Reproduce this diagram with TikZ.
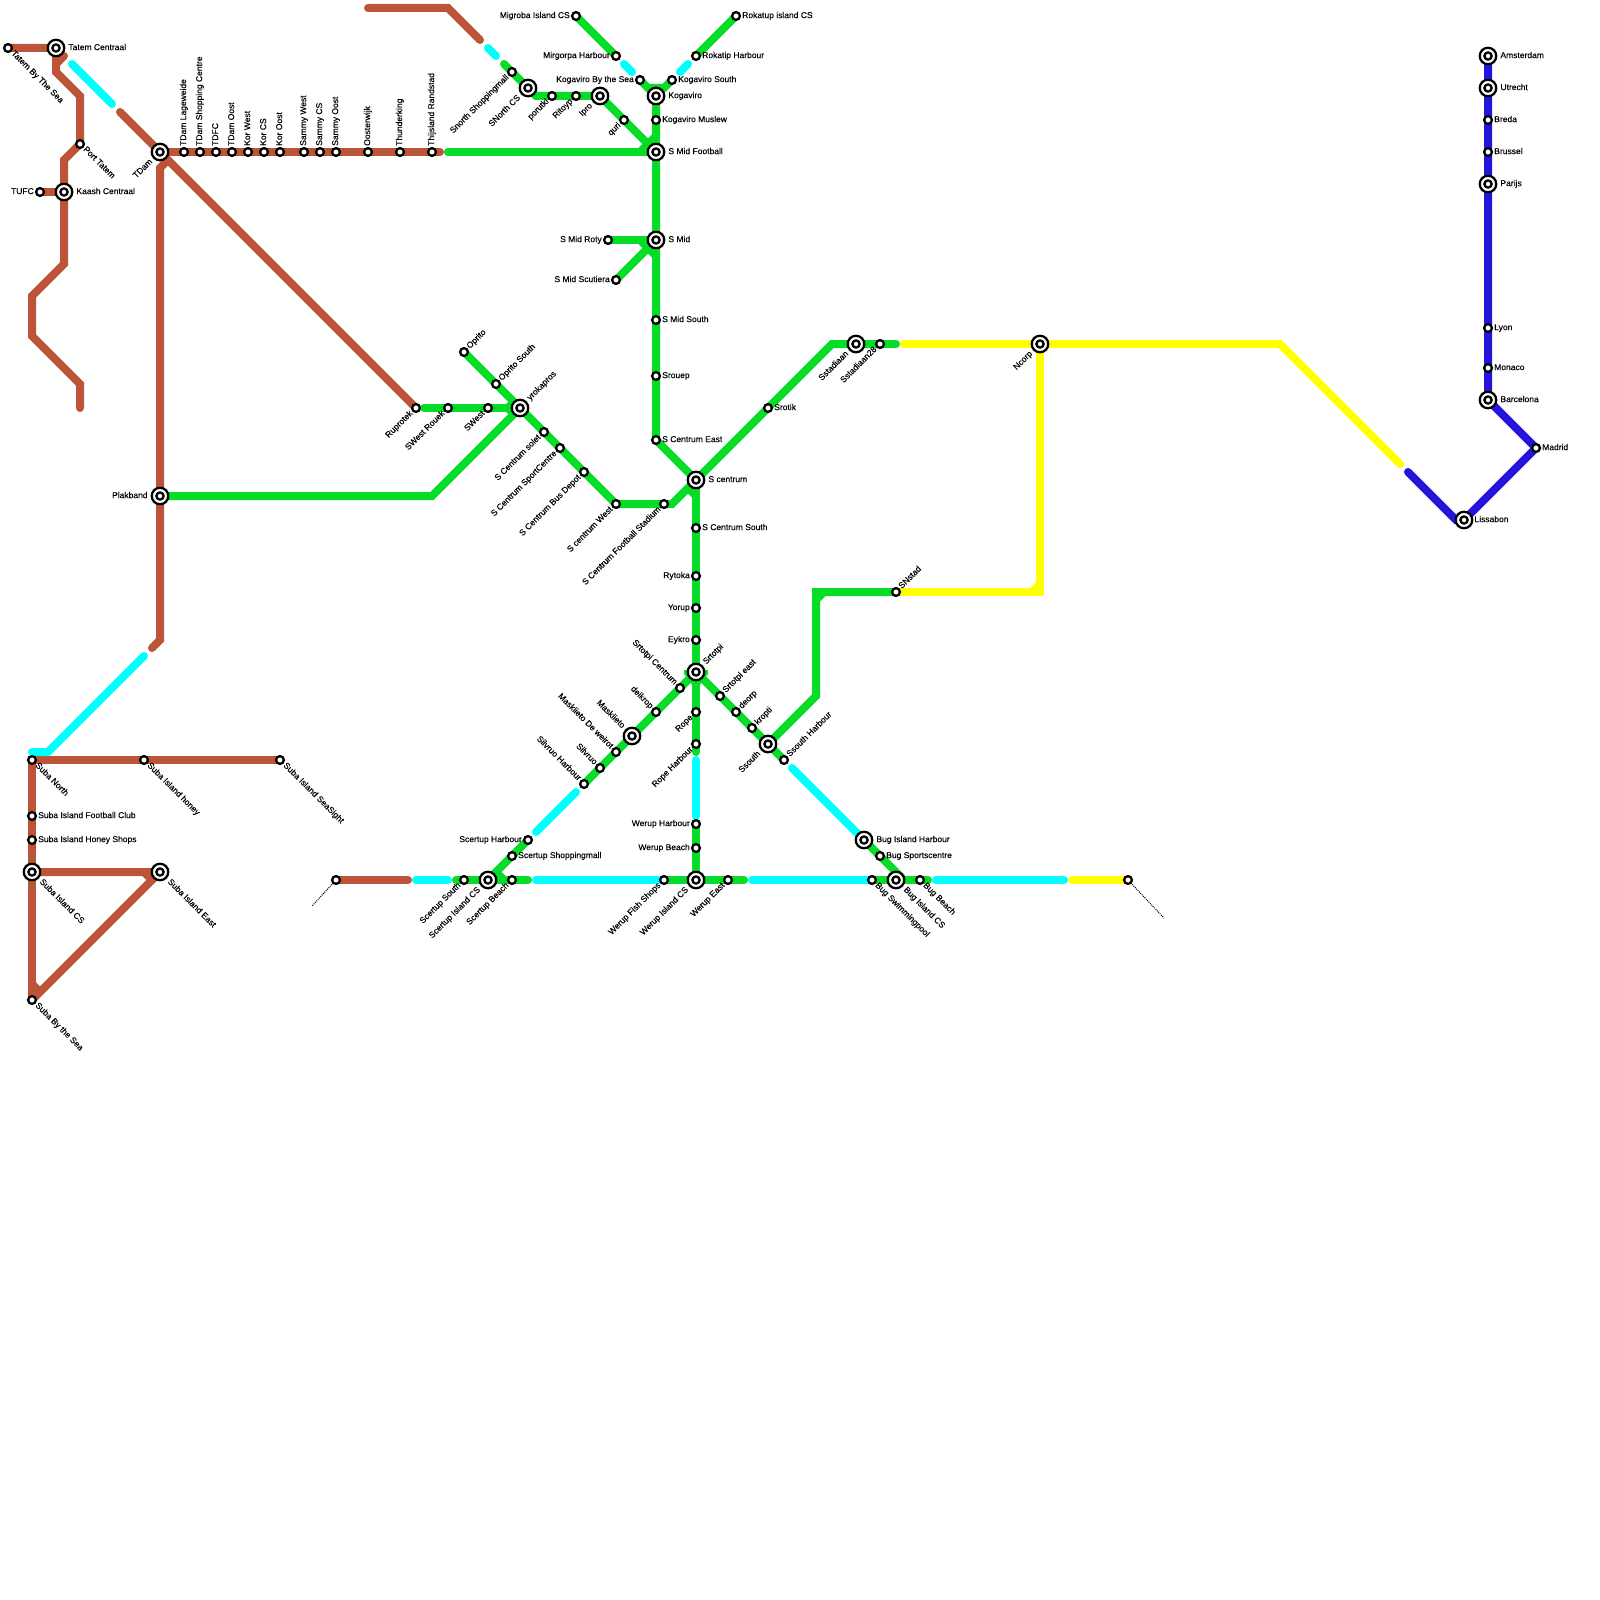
\documentclass[tikz,border=0pt]{standalone}
\usepackage{fontspec}
\setmainfont[FakeBold=0.2]{Liberation Sans}
\usepackage{xcolor}
\usetikzlibrary{backgrounds}
\definecolor{mbrown}{RGB}{188,85,56}
\definecolor{mgreen}{RGB}{7,220,40}
\definecolor{mblue}{RGB}{36,22,216}
\definecolor{mcyan}{RGB}{0,255,255}
\definecolor{myellow}{RGB}{255,255,0}
\tikzset{
  track/.style={line width=8pt,line cap=round,line join=miter},
  brownln/.style={track,draw=mbrown},
  greenln/.style={track,draw=mgreen},
  cyanln/.style={track,draw=mcyan},
  yellowln/.style={track,draw=myellow},
  blueln/.style={track,draw=mblue},
  deadln/.style={draw=black,line width=1pt,dash pattern=on 1pt off 1pt},
  stn/.style={circle,draw=black,fill=white,line width=2.3pt,minimum size=7.8pt,inner sep=0pt},
  hub/.style={stn,minimum size=16.5pt,outer sep=3pt,path picture={\draw[black,line width=2.3pt] (path picture bounding box.center) circle (3.6);}},
  txt/.style={font=\fontsize{8.5}{9}\selectfont,inner sep=1pt,text height=6pt,text depth=1.8pt},
  txtE/.style={txt,anchor=west},
  txtW/.style={txt,anchor=east},
  txtN/.style={txt,anchor=west,rotate=90},
  txtNE/.style={txt,anchor=west,rotate=45},
  txtSW/.style={txt,anchor=east,rotate=45},
  txtSE/.style={txt,anchor=west,rotate=-45},
  txtNW/.style={txt,anchor=east,rotate=-45}
}
\begin{document}
\begin{tikzpicture}[x=1pt,y=-1pt]
  \useasboundingbox (0,0) rectangle (1600,1600);
  % north west
  \node[stn] (tatemsea) at (8,48) {}; \node[txtSE] (tatemseal) at (tatemsea.south east) {Tatem By The Sea};
  \node[hub] (tatemc) at (56,48) {}; \node[txtE] (tatemcl) at (tatemc.east) {Tatem Centraal};
  \node[stn] (porttatem) at (80,144) {}; \node[txtSE] (porttateml) at (porttatem.south east) {Port Tatem};
  \node[stn] (tufc) at (40,192) {}; \node[txtW] (tufcl) at (tufc.west) {TUFC};
  \node[hub] (kaash) at (64,192) {}; \node[txtE] (kaashl) at (kaash.east) {Kaash Centraal};
  \node[hub] (tdam) at (160,152) {}; \node[txtSW] (tdaml) at (tdam.south west) {TDam};
  \node[stn] (lageweide) at (184,152) {}; \node[txtN] (lageweidel) at (lageweide.north) {TDam Lageweide};
  \node[stn] (tdamshop) at (200,152) {}; \node[txtN] (tdamshopl) at (tdamshop.north) {TDam Shopping Centre};
  \node[stn] (tdfc) at (216,152) {}; \node[txtN] (tdfcl) at (tdfc.north) {TDFC};
  \node[stn] (tdamoost) at (232,152) {}; \node[txtN] (tdamoostl) at (tdamoost.north) {TDam Oost};
  \node[stn] (korwest) at (248,152) {}; \node[txtN] (korwestl) at (korwest.north) {Kor West};
  \node[stn] (korcs) at (264,152) {}; \node[txtN] (korcsl) at (korcs.north) {Kor CS};
  \node[stn] (koroost) at (280,152) {}; \node[txtN] (koroostl) at (koroost.north) {Kor Oost};
  \node[stn] (sammywest) at (304,152) {}; \node[txtN] (sammywestl) at (sammywest.north) {Sammy West};
  \node[stn] (sammycs) at (320,152) {}; \node[txtN] (sammycsl) at (sammycs.north) {Sammy CS};
  \node[stn] (sammyoost) at (336,152) {}; \node[txtN] (sammyoostl) at (sammyoost.north) {Sammy Oost};
  \node[stn] (oosterwijk) at (368,152) {}; \node[txtN] (oosterwijkl) at (oosterwijk.north) {Oosterwijk};
  \node[stn] (thunder) at (400,152) {}; \node[txtN] (thunderl) at (thunder.north) {Thunderking};
  \node[stn] (thijsland) at (432,152) {}; \node[txtN] (thijslandl) at (thijsland.north) {Thijsland Randstad};
  \node[hub] (plakband) at (160,496) {}; \node[txtW] (plakbandl) at (plakband.west) {Plakband};
  % suba island
  \node[stn] (subanorth) at (32,760) {}; \node[txtSE] (subanorthl) at (subanorth.south east) {Suba North};
  \node[stn] (subahoney) at (144,760) {}; \node[txtSE] (subahoneyl) at (subahoney.south east) {Suba Island honey};
  \node[stn] (subasight) at (280,760) {}; \node[txtSE] (subasightl) at (subasight.south east) {Suba Island SeaSight};
  \node[stn] (subafc) at (32,816) {}; \node[txtE] (subafcl) at (subafc.east) {Suba Island Football Club};
  \node[stn] (subashops) at (32,840) {}; \node[txtE] (subashopsl) at (subashops.east) {Suba Island Honey Shops};
  \node[hub] (subacs) at (32,872) {}; \node[txtSE] (subacsl) at (subacs.south east) {Suba Island CS};
  \node[hub] (subaeast) at (160,872) {}; \node[txtSE] (subaeastl) at (subaeast.south east) {Suba Island East};
  \node[stn] (subasea) at (32,1000) {}; \node[txtSE] (subasealabel) at (subasea.south east) {Suba By the Sea};
  \node[stn] (endwest) at (336,880) {};
  % scertup and werup
  \node[stn] (scersouth) at (464,880) {}; \node[txtSW] (scersouthl) at (scersouth.south west) {Scertup South};
  \node[hub] (scercs) at (488,880) {}; \node[txtSW] (scercsl) at (scercs.south west) {Scertup Island CS};
  \node[stn] (scerbeach) at (512,880) {}; \node[txtSW] (scerbeachl) at (scerbeach.south west) {Scertup Beach};
  \node[stn] (scershop) at (512,856) {}; \node[txtE] (scershopl) at (scershop.east) {Scertup Shoppingmall};
  \node[stn] (scerharb) at (528,840) {}; \node[txtW] (scerharbl) at (scerharb.west) {Scertup Harbour};
  \node[stn] (werfish) at (664,880) {}; \node[txtSW] (werfishl) at (werfish.south west) {Werup Fish Shops};
  \node[hub] (wercs) at (696,880) {}; \node[txtSW] (wercsl) at (wercs.south west) {Werup Island CS};
  \node[stn] (wereast) at (728,880) {}; \node[txtSW] (wereastl) at (wereast.south west) {Werup East};
  \node[stn] (werharb) at (696,824) {}; \node[txtW] (werharbl) at (werharb.west) {Werup Harbour};
  \node[stn] (werbeach) at (696,848) {}; \node[txtW] (werbeachl) at (werbeach.west) {Werup Beach};
  % bug island
  \node[hub] (bugharb) at (864,840) {}; \node[txtE] (bugharbl) at (bugharb.east) {Bug Island Harbour};
  \node[stn] (bugsport) at (880,856) {}; \node[txtE] (bugsportl) at (bugsport.east) {Bug Sportscentre};
  \node[stn] (bugswim) at (872,880) {}; \node[txtSE] (bugswiml) at (bugswim.south east) {Bug Swimmingpool};
  \node[hub] (bugcs) at (896,880) {}; \node[txtSE] (bugcsl) at (bugcs.south east) {Bug Island CS};
  \node[stn] (bugbeach) at (920,880) {}; \node[txtSE] (bugbeachl) at (bugbeach.south east) {Bug Beach};
  \node[stn] (endeast) at (1128,880) {};
  % north branch
  \node[stn] (snshop) at (512,72) {}; \node[txtSW] (snshopl) at (snshop.south west) {Snorth Shoppingmall};
  \node[hub] (sncs) at (528,88) {}; \node[txtSW] (sncsl) at (sncs.south west) {SNorth CS};
  \node[stn] (porutki) at (552,96) {}; \node[txtSW] (porutkil) at (porutki.south west) {porutki};
  \node[stn] (ritoyp) at (576,96) {}; \node[txtSW] (ritoypl) at (ritoyp.south west) {Ritoyp};
  \node[hub] (ipro) at (600,96) {}; \node[txtSW] (iprol) at (ipro.south west) {Ipro};
  \node[stn] (quri) at (624,120) {}; \node[txtSW] (quril) at (quri.south west) {quri};
  \node[stn] (migroba) at (576,16) {}; \node[txtW] (migrobal) at (migroba.west) {Migroba Island CS};
  \node[stn] (mirgorpa) at (616,56) {}; \node[txtW] (mirgorpal) at (mirgorpa.west) {Mirgorpa Harbour};
  \node[stn] (kogsea) at (640,80) {}; \node[txtW] (kogseal) at (kogsea.west) {Kogaviro By the Sea};
  \node[stn] (kogsouth) at (672,80) {}; \node[txtE] (kogsouthl) at (kogsouth.east) {Kogaviro South};
  \node[stn] (rokhar) at (696,56) {}; \node[txtE] (rokharl) at (rokhar.east) {Rokatip Harbour};
  \node[stn] (rokcs) at (736,16) {}; \node[txtE] (rokcsl) at (rokcs.east) {Rokatup island CS};
  \node[hub] (kogaviro) at (656,96) {}; \node[txtE] (kogavirol) at (kogaviro.east) {Kogaviro};
  \node[stn] (kogmus) at (656,120) {}; \node[txtE] (kogmusl) at (kogmus.east) {Kogaviro Muslew};
  \node[hub] (smidfb) at (656,152) {}; \node[txtE] (smidfbl) at (smidfb.east) {S Mid Football};
  \node[hub] (smid) at (656,240) {}; \node[txtE] (smidl) at (smid.east) {S Mid};
  \node[stn] (smidroty) at (608,240) {}; \node[txtW] (smidrotyl) at (smidroty.west) {S Mid Roty};
  \node[stn] (smidscut) at (616,280) {}; \node[txtW] (smidscutl) at (smidscut.west) {S Mid Scutiera};
  \node[stn] (smidsouth) at (656,320) {}; \node[txtE] (smidsouthl) at (smidsouth.east) {S Mid South};
  \node[stn] (srouep) at (656,376) {}; \node[txtE] (srouepl) at (srouep.east) {Srouep};
  \node[stn] (scentre) at (656,440) {}; \node[txtE] (scentrel) at (scentre.east) {S Centrum East};
  % yrokapros and s centrum
  \node[stn] (ruprotek) at (416,408) {}; \node[txtSW] (ruprotekl) at (ruprotek.south west) {Ruprotek};
  \node[stn] (swrouek) at (448,408) {}; \node[txtSW] (swrouekl) at (swrouek.south west) {SWest Rouek};
  \node[stn] (swest) at (488,408) {}; \node[txtSW] (swestl) at (swest.south west) {SWest};
  \node[stn] (oprito) at (464,352) {}; \node[txtNE] (opritol) at (oprito.north east) {Oprito};
  \node[stn] (opritos) at (496,384) {}; \node[txtNE] (opritosl) at (opritos.north east) {Oprito South};
  \node[hub] (yroka) at (520,408) {}; \node[txtNE] (yrokal) at (yroka.north east) {yrokapros};
  \node[stn] (scsolet) at (544,432) {}; \node[txtSW] (scsoletl) at (scsolet.south west) {S Centrum solet};
  \node[stn] (scsport) at (560,448) {}; \node[txtSW] (scsportl) at (scsport.south west) {S Centrum SportCentre};
  \node[stn] (scbus) at (584,472) {}; \node[txtSW] (scbusl) at (scbus.south west) {S Centrum Bus Depot};
  \node[stn] (scwest) at (616,504) {}; \node[txtSW] (scwestl) at (scwest.south west) {S centrum West};
  \node[stn] (scfoot) at (664,504) {}; \node[txtSW] (scfootl) at (scfoot.south west) {S Centrum Football Stadium};
  \node[hub] (scentrum) at (696,480) {}; \node[txtE] (scentruml) at (scentrum.east) {S centrum};
  \node[stn] (scsouth) at (696,528) {}; \node[txtE] (scsouthl) at (scsouth.east) {S Centrum South};
  \node[stn] (rytoka) at (696,576) {}; \node[txtW] (rytokal) at (rytoka.west) {Rytoka};
  \node[stn] (yorup) at (696,608) {}; \node[txtW] (yorupl) at (yorup.west) {Yorup};
  \node[stn] (eykro) at (696,640) {}; \node[txtW] (eykrol) at (eykro.west) {Eykro};
  \node[hub] (srtotpi) at (696,672) {}; \node[txtNE] (srtotpil) at (srtotpi.north east) {Srtotpi};
  \node[stn] (srcentrum) at (680,688) {}; \node[txtNW] (srcentruml) at (srcentrum.north west) {Srtotpi Centrum};
  \node[stn] (deikrop) at (656,712) {}; \node[txtNW] (deikropl) at (deikrop.north west) {deikrop};
  \node[hub] (maski) at (632,736) {}; \node[txtNW] (maskil) at (maski.north west) {Maskiieto};
  \node[stn] (maskiw) at (616,752) {}; \node[txtNW] (maskiwl) at (maskiw.north west) {Maskiieto De weirot};
  \node[stn] (silvruo) at (600,768) {}; \node[txtNW] (silvruol) at (silvruo.north west) {Silvruo};
  \node[stn] (silharb) at (584,784) {}; \node[txtNW] (silharbl) at (silharb.north west) {Silvruo Harbour};
  \node[stn] (rope) at (696,712) {}; \node[txtSW] (ropel) at (rope.south west) {Rope};
  \node[stn] (ropeharb) at (696,744) {}; \node[txtSW] (ropeharbl) at (ropeharb.south west) {Rope Harbour};
  \node[stn] (sreast) at (720,696) {}; \node[txtNE] (sreastl) at (sreast.north east) {Srtotpi east};
  \node[stn] (deorp) at (736,712) {}; \node[txtNE] (deorpl) at (deorp.north east) {deorp};
  \node[stn] (kropti) at (752,728) {}; \node[txtNE] (kroptil) at (kropti.north east) {kropti};
  \node[hub] (ssouth) at (768,744) {}; \node[txtSW] (ssouthl) at (ssouth.south west) {Ssouth};
  \node[stn] (ssharb) at (784,760) {}; \node[txtNE] (ssharbl) at (ssharb.north east) {Ssouth Harbour};
  \node[stn] (srotik) at (768,408) {}; \node[txtE] (srotikl) at (srotik.east) {Srotik};
  \node[hub] (sstad) at (856,344) {}; \node[txtSW] (sstadl) at (sstad.south west) {Sstadiaan};
  \node[stn] (sstadb) at (880,344) {}; \node[txtSW] (sstadbl) at (sstadb.south west) {Sstadiaan28};
  \node[stn] (snstad) at (896,592) {}; \node[txtNE] (snstadl) at (snstad.north east) {SNstad};
  \node[hub] (ncorp) at (1040,344) {}; \node[txtSW] (ncorpl) at (ncorp.south west) {Ncorp};
  % europe
  \node[hub] (amsterdam) at (1488,56) {}; \node[txtE] (amsterdaml) at (amsterdam.east) {Amsterdam};
  \node[hub] (utrecht) at (1488,88) {}; \node[txtE] (utrechtl) at (utrecht.east) {Utrecht};
  \node[stn] (breda) at (1488,120) {}; \node[txtE] (bredal) at (breda.east) {Breda};
  \node[stn] (brussel) at (1488,152) {}; \node[txtE] (brussell) at (brussel.east) {Brussel};
  \node[hub] (parijs) at (1488,184) {}; \node[txtE] (parijsl) at (parijs.east) {Parijs};
  \node[stn] (lyon) at (1488,328) {}; \node[txtE] (lyonl) at (lyon.east) {Lyon};
  \node[stn] (monaco) at (1488,368) {}; \node[txtE] (monacol) at (monaco.east) {Monaco};
  \node[hub] (barcelona) at (1488,400) {}; \node[txtE] (barcelonal) at (barcelona.east) {Barcelona};
  \node[stn] (madrid) at (1536,448) {}; \node[txtE] (madridl) at (madrid.east) {Madrid};
  \node[hub,outer sep=1pt] (lissabon) at (1464,520) {}; \node[txtE] (lissabonl) at (lissabon.east) {Lissabon};
  % free ends
  \coordinate (stubtatema) at (56,64); \coordinate (stubtatemb) at (64,56);
  \coordinate (cyana) at (72,64); \coordinate (cyanb) at (112,104); \coordinate (browna) at (120,112);
  \coordinate (eastend) at (440,152); \coordinate (greenmid) at (448,152);
  \coordinate (portend) at (80,408); \coordinate (tdamstub) at (168,160);
  \coordinate (plakend) at (152,648); \coordinate (cyanc) at (144,656); \coordinate (cyand) at (32,752);
  \coordinate (brownb) at (368,8); \coordinate (brownc) at (480,40); \coordinate (cyane) at (488,48);
  \coordinate (cyanf) at (496,56); \coordinate (greena) at (504,64); \coordinate (greenw) at (424,408);
  \coordinate (miga) at (624,64); \coordinate (migb) at (632,72); \coordinate (roka) at (680,72); \coordinate (rokb) at (688,64);
  \coordinate (brownd) at (408,880); \coordinate (cyang) at (416,880); \coordinate (cyanh) at (448,880);
  \coordinate (greenb) at (456,880); \coordinate (greenc) at (528,880); \coordinate (cyani) at (536,880);
  \coordinate (cyanj) at (658,880); \coordinate (greend) at (744,880); \coordinate (cyank) at (752,880);
  \coordinate (cyanl) at (868,880); \coordinate (greene) at (928,880); \coordinate (cyanm) at (936,880);
  \coordinate (cyann) at (1064,880); \coordinate (yellowa) at (1072,880);
  \coordinate (cyano) at (536,832); \coordinate (cyanp) at (576,792);
  \coordinate (greenf) at (696,752); \coordinate (cyanq) at (696,760); \coordinate (cyanr) at (696,816);
  \coordinate (cyans) at (792,768); \coordinate (greeng) at (896,344); \coordinate (yellowb) at (904,344);
  \coordinate (yellowc) at (1400,464); \coordinate (bluea) at (1408,472);
  \coordinate (deadw) at (312,906); \coordinate (deade) at (1164,918);
  \begin{scope}[on background layer]
    \draw[deadln] (endwest.center) -- (deadw);
    \draw[deadln] (endeast.center) -- (deade);
    % brown
    \draw[brownln] (tatemsea.center) -- (tatemc.center) -- (56,72) -- (80,96) -- (porttatem.center) -- (64,160) -- (kaash.center) -- (64,264) -- (32,296) -- (32,336) -- (80,384) -- (portend);
    \draw[brownln] (stubtatema) -- (stubtatemb);
    \draw[brownln] (tufc.center) -- (kaash.center);
    \draw[brownln] (browna) -- (tdam.center) -- (ruprotek.center);
    \draw[brownln] (tdam.center) -- (eastend);
    \draw[brownln] (tdamstub) -- (160,168) -- (plakband.center) -- (160,640) -- (plakend);
    \draw[brownln] (brownb) -- (448,8) -- (brownc);
    \draw[brownln] (subasight.center) -- (subanorth.center) -- (subasea.center);
    \draw[brownln] (subacs.center) -- (subaeast.center) -- (subasea.center);
    \draw[brownln] (144,872) -- (152,880);
    \draw[brownln] (32,984) -- (40,992);
    \draw[brownln] (endwest.center) -- (brownd);
    % green
    \draw[greenln] (greenmid) -- (smidfb.center);
    \draw[greenln] (greena) -- (sncs.center) -- (536,96) -- (ipro.center) -- (648,144);
    \draw[greenln] (640,152) -- (656,136);
    \draw[greenln] (migroba.center) -- (mirgorpa.center);
    \draw[greenln] (rokhar.center) -- (rokcs.center);
    \draw[greenln] (kogsea.center) -- (648,88) -- (664,88) -- (kogsouth.center);
    \draw[greenln] (656,88) -- (smid.center) -- (scentre.center) -- (scentrum.center);
    \draw[greenln] (smidroty.center) -- (smid.center);
    \draw[greenln] (smidscut.center) -- (648,248) -- (656,256);
    \draw[greenln] (640,240) -- (648,248);
    \draw[greenln] (greenw) -- (yroka.center);
    \fill[mgreen] (506,404) -- (512,398) -- (512,418) -- (506,412) -- cycle;
    \draw[greenln] (oprito.center) -- (yroka.center) -- (scwest.center) -- (672,504) -- (scentrum.center);
    \draw[greenln] (plakband.center) -- (432,496) -- (yroka.center);
    \draw[greenln] (688,488) -- (696,496);
    \draw[greenln] (scentrum.center) -- (greenf);
    \draw[greenln] (scentrum.center) -- (832,344) -- (greeng);
    \fill[mgreen] (684,670) -- (708,670) -- (708,674) -- (696,690) -- (684,674) -- cycle;
    \draw[greenln] (srtotpi.center) -- (silharb.center);
    \draw[greenln] (srtotpi.center) -- (ssharb.center);
    \draw[greenln] (ssouth.center) -- (816,696) -- (816,592) -- (snstad.center);
    \draw[greenln] (816,600) -- (824,592);
    \draw[greenln] (werharb.center) -- (wercs.center);
    \draw[greenln] (greenb) -- (greenc);
    \draw[greenln] (scercs.center) -- (scerharb.center);
    \draw[greenln] (496,872) -- (504,880);
    \draw[greenln] (werfish.center) -- (greend);
    \draw[greenln] (bugharb.center) -- (904,880);
    \draw[greenln] (bugswim.center) -- (greene);
    % cyan
    \draw[cyanln] (cyana) -- (cyanb);
    \draw[cyanln] (cyanc) -- (48,752) -- (cyand);
    \draw[cyanln] (cyane) -- (cyanf);
    \draw[cyanln] (miga) -- (migb);
    \draw[cyanln] (roka) -- (rokb);
    \draw[cyanln] (cyang) -- (cyanh);
    \draw[cyanln] (cyani) -- (cyanj);
    \draw[cyanln] (cyank) -- (cyanl);
    \draw[cyanln] (cyanm) -- (cyann);
    \draw[cyanln] (cyano) -- (cyanp);
    \draw[cyanln] (cyanq) -- (cyanr);
    \draw[cyanln] (cyans) -- (bugharb.center);
    % yellow
    \draw[yellowln] (yellowa) -- (endeast.center);
    \draw[yellowln] (yellowb) -- (ncorp.center) -- (1280,344) -- (yellowc);
    \draw[yellowln] (ncorp.center) -- (1040,592) -- (snstad.center);
    \draw[yellowln] (1032,592) -- (1040,584);
    % blue
    \draw[blueln] (amsterdam.center) -- (barcelona.center) -- (madrid.center) -- (lissabon.center);
    \draw[blueln] (bluea) -- (1456,520) -- (lissabon.center);
  \end{scope}
\end{tikzpicture}
\end{document}
